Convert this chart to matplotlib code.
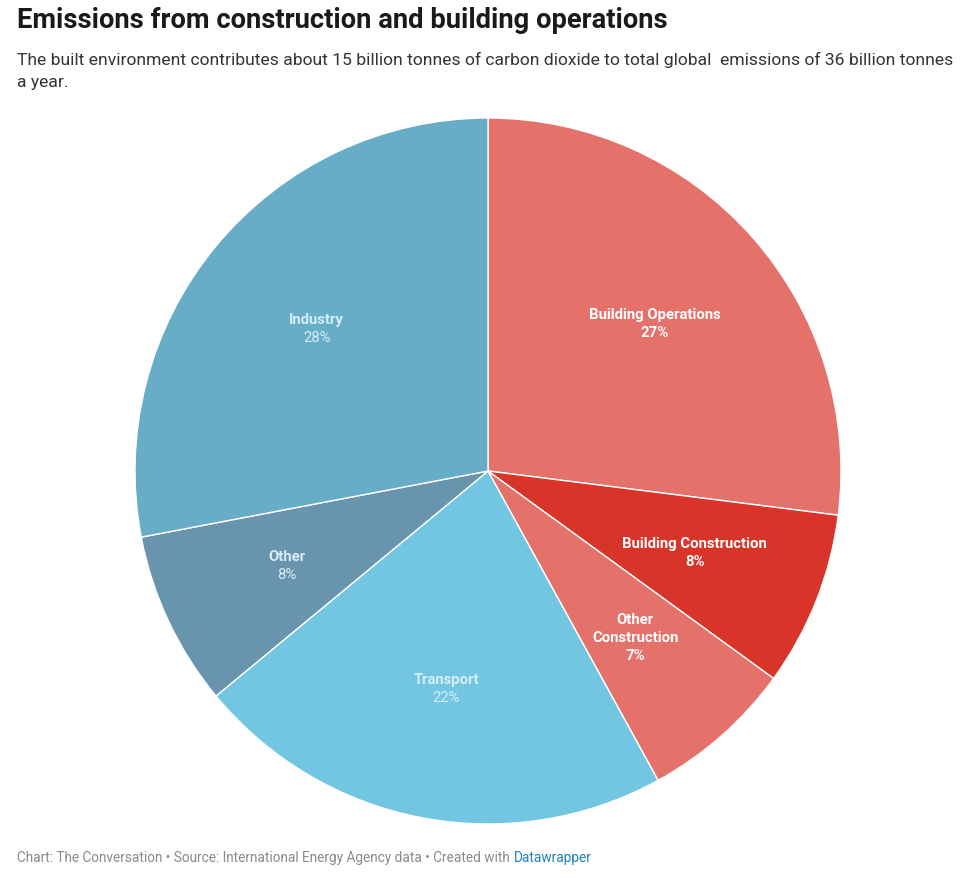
import numpy as np
import matplotlib.pyplot as plt

plt.rcParams['font.family'] = ['Roboto', 'DejaVu Sans']

labels = ['Building Operations', 'Building Construction', 'Other\nConstruction',
          'Transport', 'Other', 'Industry']
values = [27, 8, 7, 22, 8, 28]
colors = ['#e4716a', '#d8342a', '#e4716a', '#72c6e1', '#6895ad', '#67adc7']
light = [True, True, True, False, False, False]

fig = plt.figure(figsize=(9.6, 8.82), dpi=100)
ax = fig.add_axes([135 / 960, 58 / 882, 706 / 960, 706 / 882])

wedges, _ = ax.pie(values, colors=colors, startangle=90, counterclock=False,
                   radius=1, wedgeprops=dict(edgecolor='white', linewidth=1))
ax.set_xlim(-1, 1)
ax.set_ylim(-1, 1)
ax.set_aspect('equal')
ax.axis('off')

total = sum(values)
cum = 0
d = 18 / 353  # line step in data units
for lab, v, red in zip(labels, values, light):
    mid = (cum + v / 2) / total * 2 * np.pi
    cum += v
    x = 0.63 * np.sin(mid)
    y = 0.63 * np.cos(mid)
    col = 'white' if red else '#d6edf5'
    lines = lab.split('\n') + [f'{v}%']
    n = len(lines)
    for i, s in enumerate(lines):
        is_pct = i == n - 1
        w = 'bold' if (red or not is_pct) else 'normal'
        ax.text(x, y + (n - 1) / 2 * d - i * d, s, ha='center', va='center',
                color=col, fontsize=10.7, fontweight=w)

fig.text(17 / 960, 1 - 21 / 882, 'Emissions from construction and building operations',
         fontsize=19.7, fontweight='bold', color='#1a1a1a', va='center', ha='left')
fig.text(17 / 960, 1 - 60 / 882,
         'The built environment contributes about 15 billion tonnes of carbon dioxide to total global  emissions of 36 billion tonnes',
         fontsize=12.6, color='#333333', va='center', ha='left')
fig.text(17 / 960, 1 - 82 / 882, 'a year.',
         fontsize=12.6, color='#333333', va='center', ha='left')
foot = fig.text(17 / 960, 1 - 858 / 882,
                'Chart: The Conversation \u2022 Source: International Energy Agency data \u2022 Created with',
                fontsize=9.85, color='#8a8a8a', va='center', ha='left')
fig.canvas.draw()
bb = foot.get_window_extent()
fig.text((bb.x1 + 4) / 960, 1 - 858 / 882, 'Datawrapper', fontsize=9.85, color='#1d81c2',
         va='center', ha='left')

fig.savefig('out.png', dpi=100, facecolor='white')
